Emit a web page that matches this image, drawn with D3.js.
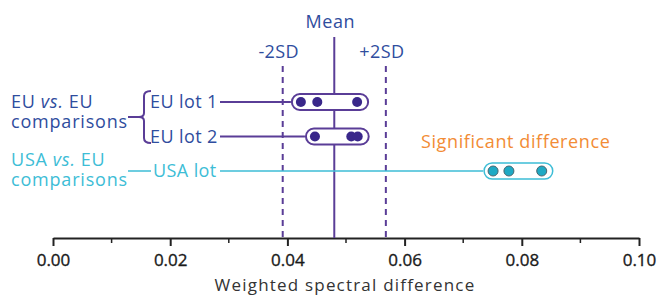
<!DOCTYPE html>
<meta charset="utf-8">
<script src="https://d3js.org/d3.v7.min.js"></script>
<style>
  body { margin: 0; background: #fff; }
  text { font-family: "Open Sans", sans-serif; }
</style>
<div id="chart"></div>
<script>
// values
const lots = ["EU lot 1", "EU lot 2", "USA lot"];
const lotValues = [
  [0.0423, 0.0451, 0.0519],
  [0.0447, 0.0509, 0.0520],
  [0.0751, 0.0778, 0.0834]
];
const meanValue = 0.048;
const sdLines = [{label: "-2SD", v: 0.0392}, {label: "+2SD", v: 0.0568}];
const majorTicks = [0, 0.02, 0.04, 0.06, 0.08, 0.10];
const minorTicks = [0.01, 0.03, 0.05, 0.07, 0.09];

const width = 658, height = 295;
const purple = "#5a3d97", navy = "#2f4d9e", teal = "#3dbdd6";

const svg = d3.select("#chart").append("svg")
  .attr("width", width).attr("height", height);

const x = d3.scaleLinear().domain([0, 0.1]).range([53, 639]);
const y = d3.scalePoint().domain(lots).range([102, 171]);
const axisY = 238;

// axis
svg.append("g")
  .attr("transform", `translate(0,${axisY})`)
  .call(d3.axisBottom(x).tickValues(majorTicks).tickFormat(d3.format(".2f")).tickSize(8).tickSizeOuter(0))
  .call(g => g.select(".domain").attr("stroke", "#222").attr("stroke-width", 2))
  .call(g => g.selectAll(".tick line").attr("stroke", "#222").attr("stroke-width", 2))
  .call(g => g.selectAll(".tick text").attr("dy", "1.0em")
    .attr("font-family", "Liberation Sans, Arial, sans-serif").attr("font-size", 17)
    .attr("fill", "#1a1a1a").attr("stroke", "#1a1a1a").attr("stroke-width", 0.35));

svg.append("g").selectAll("line").data(minorTicks).join("line")
  .attr("x1", d => x(d)).attr("x2", d => x(d))
  .attr("y1", axisY).attr("y2", axisY + 5)
  .attr("stroke", "#222").attr("stroke-width", 1.5);

svg.append("text")
  .attr("x", 345).attr("y", 291).attr("text-anchor", "middle")
  .attr("font-size", 17).attr("letter-spacing", 1.2).attr("fill", "#333")
  .text("Weighted spectral difference");

// mean and SD lines
svg.append("line")
  .attr("x1", x(meanValue)).attr("x2", x(meanValue))
  .attr("y1", 37).attr("y2", axisY)
  .attr("stroke", purple).attr("stroke-width", 2);
svg.append("text")
  .attr("x", x(meanValue) - 4).attr("y", 28).attr("text-anchor", "middle")
  .attr("font-size", 18).attr("letter-spacing", 0.6).attr("fill", navy).text("Mean");

svg.append("g").selectAll("line").data(sdLines).join("line")
  .attr("x1", d => x(d.v)).attr("x2", d => x(d.v))
  .attr("y1", 66).attr("y2", axisY)
  .attr("stroke", purple).attr("stroke-width", 2)
  .attr("stroke-dasharray", "6,5");
svg.append("g").selectAll("text").data(sdLines).join("text")
  .attr("x", d => x(d.v) - 4).attr("y", 58).attr("text-anchor", "middle")
  .attr("font-size", 18).attr("letter-spacing", 0.4).attr("fill", navy).text(d => d.label);

// rows
const rows = lots.map((name, i) => ({name, vals: lotValues[i], usa: name.startsWith("USA")}));

const row = svg.append("g").selectAll("g").data(rows).join("g");

row.append("line")
  .attr("x1", 220).attr("x2", d => x(d3.min(d.vals)) - 10)
  .attr("y1", d => y(d.name)).attr("y2", d => y(d.name))
  .attr("stroke", d => d.usa ? teal : purple).attr("stroke-width", d => d.usa ? 1.5 : 2);

row.append("rect")
  .attr("x", d => x(d3.min(d.vals)) - 9)
  .attr("width", d => x(d3.max(d.vals)) - x(d3.min(d.vals)) + 20)
  .attr("y", d => y(d.name) - 8).attr("height", 16).attr("rx", 8)
  .attr("fill", "#fff")
  .attr("stroke", d => d.usa ? teal : purple).attr("stroke-width", d => d.usa ? 1.5 : 2);

row.selectAll("circle").data(d => d.vals.map(v => ({v, name: d.name, usa: d.usa}))).join("circle")
  .attr("cx", d => x(d.v)).attr("cy", d => y(d.name)).attr("r", 5)
  .attr("fill", d => d.usa ? "#1ea9c4" : "#39278a")
  .attr("stroke", d => d.usa ? "#4a6670" : "none").attr("stroke-width", 1);

row.append("text")
  .attr("x", d => d.usa ? 153 : 150).attr("y", d => y(d.name) + 6)
  .attr("font-size", 18).attr("letter-spacing", 0.4).attr("fill", d => d.usa ? teal : navy)
  .text(d => d.name);

// group labels: pieces placed one after another so "vs." can be italic
function groupLabel(first, yy, color) {
  const parts = [{t: first, it: false}, {t: "vs.", it: true}, {t: "EU", it: false}];
  let cx = 11;
  parts.forEach(p => {
    const el = svg.append("text").attr("x", cx).attr("y", yy)
      .attr("font-size", 18).attr("letter-spacing", 0.8).attr("fill", color)
      .attr("font-style", p.it ? "italic" : null)
      .text(p.t);
    cx += el.node().getComputedTextLength() + 5;
  });
  svg.append("text").attr("x", 11).attr("y", yy + 20)
    .attr("font-size", 18).attr("letter-spacing", 0.8).attr("fill", color).text("comparisons");
}
groupLabel("EU", 108, navy);
groupLabel("USA", 166, teal);

// bracket
svg.append("path")
  .attr("d", "M151,91 Q144,91 144,96 L144,113 Q144,117 139,117 L128,117 M139,117 Q144,117 144,121 L144,138 Q144,143 151,143")
  .attr("fill", "none").attr("stroke", purple).attr("stroke-width", 2);

svg.append("line")
  .attr("x1", 128).attr("x2", 151).attr("y1", y("USA lot")).attr("y2", y("USA lot"))
  .attr("stroke", teal).attr("stroke-width", 1.5);

svg.append("text")
  .attr("x", 421).attr("y", 148).attr("font-size", 18).attr("letter-spacing", 0.6).attr("fill", "#f28c35")
  .text("Significant difference");
</script>
